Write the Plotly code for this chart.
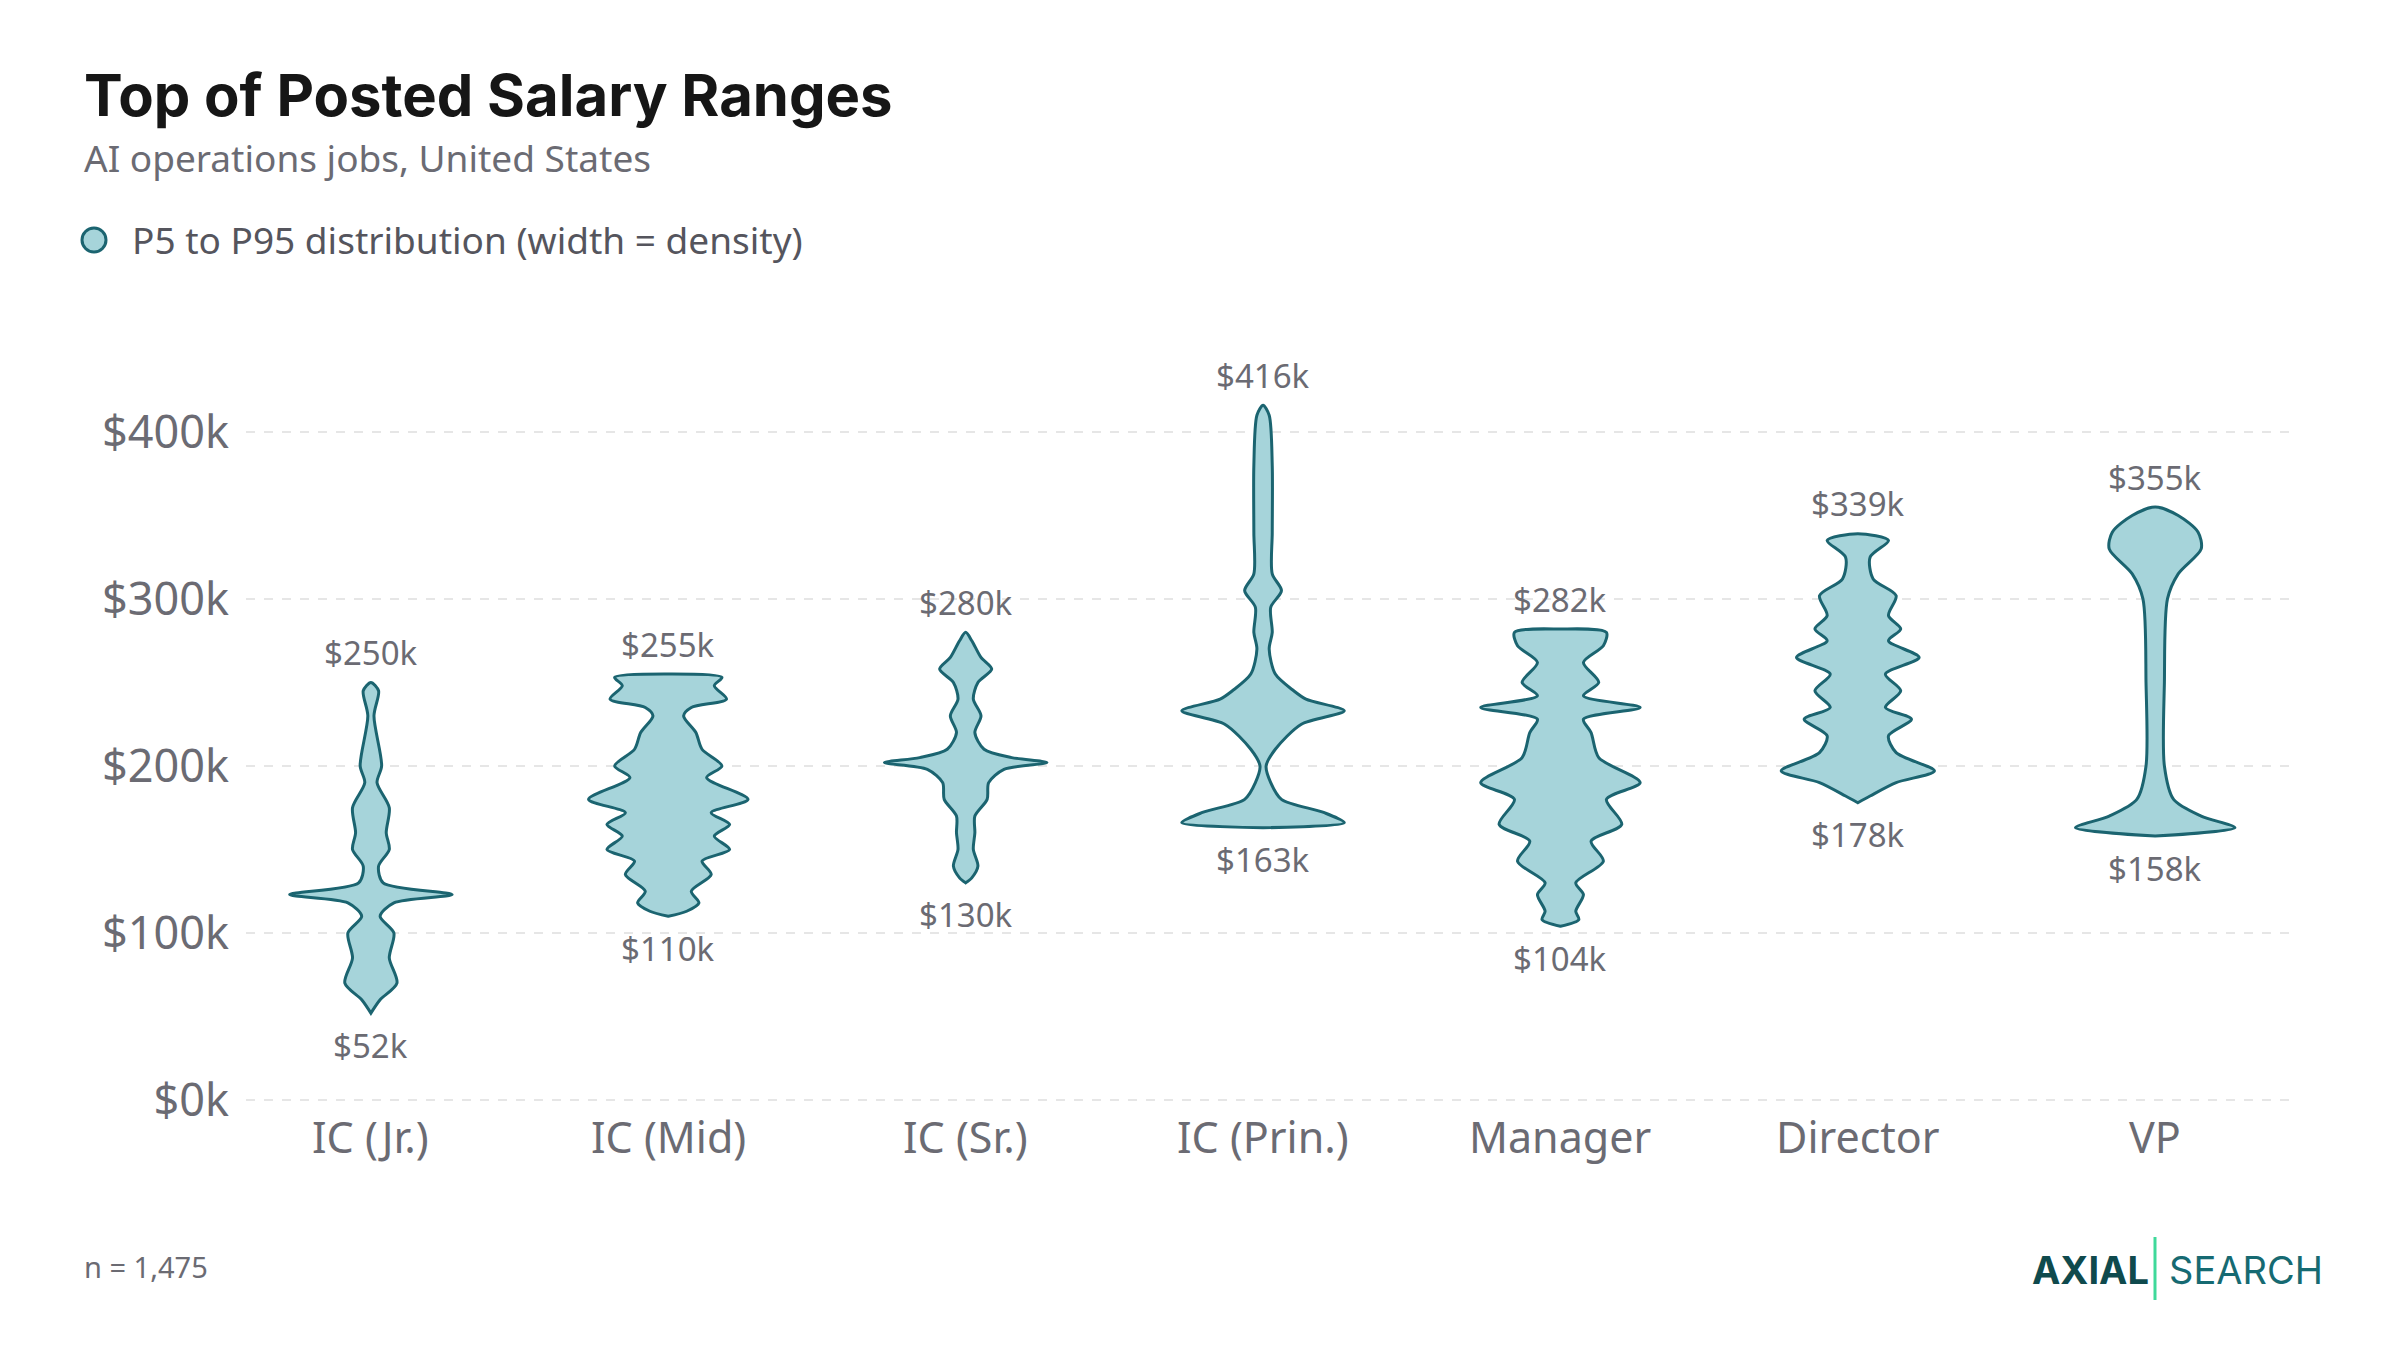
"""Top of posted salary ranges - violin-style density chart."""

import plotly.graph_objects as go

# ---- data (salary in $k, half-width = relative density) ----
categories = ["IC (Jr.)", "IC (Mid)", "IC (Sr.)", "IC (Prin.)", "Manager", "Director", "VP"]
p5 = [52, 110, 130, 163, 104, 178, 158]
p95 = [250, 255, 280, 416, 282, 339, 355]

jr_salary = [250, 245, 230, 200, 190, 175, 160, 150, 140, 130, 123, 118, 110, 100, 85, 70, 60, 52]
jr_width = [0, 5, 2, 7, 4, 12, 10, 12, 5, 8, 53, 15, 6, 15, 12, 17, 6, 0]

mid_salary = [255, 253, 248, 240, 235, 230, 220, 210, 200, 193, 180, 172, 165, 158, 150, 143, 135, 125, 118, 113, 110]
mid_width = [0, 35, 30, 38, 15, 10, 18, 22, 35, 25, 52, 28, 40, 30, 40, 22, 28, 15, 20, 12, 0]

sr_salary = [280, 275, 265, 258, 250, 240, 230, 220, 210, 205, 202, 198, 190, 180, 170, 160, 150, 140, 133, 130]
sr_width = [0, 4, 10, 17, 8, 5, 10, 6, 12, 30, 53, 25, 15, 14, 6, 6, 5, 8, 4, 0]

prin_salary = [416, 410, 380, 340, 315, 305, 295, 280, 270, 255, 245, 240, 233, 225, 210, 200, 190, 180, 172, 166, 163]
prin_width = [0, 4, 6, 6, 6, 12, 5, 6, 4, 8, 20, 28, 53, 25, 8, 2, 5, 12, 40, 53, 0]

mgr_salary = [282, 280, 272, 262, 250, 242, 235, 228, 220, 205, 190, 180, 165, 155, 143, 130, 123, 113, 108, 104]
mgr_width = [0, 30, 28, 15, 25, 15, 52, 15, 20, 25, 52, 30, 40, 20, 28, 10, 15, 10, 12, 0]

dir_salary = [339, 335, 325, 312, 302, 290, 282, 275, 265, 255, 245, 235, 228, 218, 208, 197, 190, 182, 178]
dir_width = [0, 20, 8, 10, 25, 20, 28, 20, 40, 18, 28, 18, 35, 20, 25, 50, 25, 8, 0]

vp_salary = [355, 350, 340, 330, 315, 300, 250, 200, 180, 170, 163, 158]
vp_width = [0, 15, 28, 30, 15, 8, 6, 6, 12, 30, 52, 0]

profiles = [
    (jr_salary, jr_width),
    (mid_salary, mid_width),
    (sr_salary, sr_width),
    (prin_salary, prin_width),
    (mgr_salary, mgr_width),
    (dir_salary, dir_width),
    (vp_salary, vp_width),
]

FILL = "#a6d4da"
LINE = "#1b6470"
GREY = "#6b6b73"
FONT = "Noto Sans"
WIDTH_SCALE = 194.0  # width units per category slot

# page is offset by the browser body margin, so pull everything in a bit
OFF = 8
L, R, T, B = 246 - OFF, 108 + OFF, 300 - OFF, 230 + OFF
Y_RANGE = [-12, 479]


def px_x(x):
    return (x - OFF - L) / (2400 - L - R)


def px_y(y):
    return 1 - (y - OFF - T) / (1350 - T - B)


fig = go.Figure()

for i, (sal, wid) in enumerate(profiles):
    xs = [i + w / WIDTH_SCALE for w in wid] + [i - w / WIDTH_SCALE for w in reversed(wid)]
    ys = list(sal) + list(reversed(sal))
    fig.add_trace(
        go.Scatter(
            x=xs,
            y=ys,
            fill="toself",
            fillcolor=FILL,
            mode="lines",
            line=dict(color=LINE, width=3, shape="spline", smoothing=0.8),
            showlegend=False,
            hoverinfo="skip",
        )
    )

annotations = []
for i, cat in enumerate(categories):
    annotations.append(dict(x=i, y=p95[i], text=f"${p95[i]}k", yshift=30, showarrow=False,
                            font=dict(family=FONT, size=33, color=GREY)))
    annotations.append(dict(x=i, y=p5[i], text=f"${p5[i]}k", yshift=-32, showarrow=False,
                            font=dict(family=FONT, size=33, color=GREY)))
    annotations.append(dict(x=i, yref="paper", y=0, yshift=-48,
                            text=cat, showarrow=False,
                            font=dict(family=FONT, size=43, color=GREY)))

fig.update_layout(
    width=2400,
    height=1350,
    paper_bgcolor="white",
    plot_bgcolor="white",
    margin=dict(l=L, r=R, t=T, b=B),
    showlegend=False,
    xaxis=dict(range=[-0.42, 6.46], showgrid=False, zeroline=False, showticklabels=False, fixedrange=True),
    yaxis=dict(
        range=Y_RANGE,
        tickvals=[0, 100, 200, 300, 400],
        ticktext=["$0k", "$100k", "$200k", "$300k", "$400k"],
        tickfont=dict(family=FONT, size=45, color=GREY),
        showgrid=True,
        gridcolor="#e6e6e6",
        griddash="dash",
        gridwidth=2,
        zeroline=False,
        ticks="",
        ticklabelstandoff=16,
    ),
    annotations=annotations,
)

# header, legend, footer
page_text = [
    dict(x=82, y=95, text="<b>Top of Posted Salary Ranges</b>", size=58, color="#161616", family="Inter"),
    dict(x=82, y=157, text="AI operations jobs, United States", size=37, color=GREY, family=FONT),
    dict(x=130, y=240, text="P5 to P95 distribution (width = density)", size=37, color="#55555d", family=FONT),
    dict(x=82, y=1266, text="n = 1,475", size=29, color=GREY, family=FONT),
    dict(x=2030, y=1270, text="<b>AXIAL</b>", size=38, color="#0f4a4d", family="Inter"),
    dict(x=2167, y=1270, text="SEARCH", size=38, color="#166a72", family="Inter"),
]
for t in page_text:
    fig.add_annotation(
        xref="paper", yref="paper",
        x=px_x(t["x"]), y=px_y(t["y"]),
        xanchor="left", yanchor="middle",
        text=t["text"], showarrow=False,
        font=dict(family=t["family"], size=t["size"], color=t["color"]),
    )

# legend dot and logo divider
fig.add_shape(type="circle", xref="paper", yref="paper",
              x0=px_x(82), x1=px_x(106), y0=px_y(252), y1=px_y(228),
              fillcolor=FILL, line=dict(color=LINE, width=3))
fig.add_shape(type="line", xref="paper", yref="paper",
              x0=px_x(2155), x1=px_x(2155), y0=px_y(1237), y1=px_y(1300),
              line=dict(color="#3fd99a", width=3))

fig.write_html("out.html")
